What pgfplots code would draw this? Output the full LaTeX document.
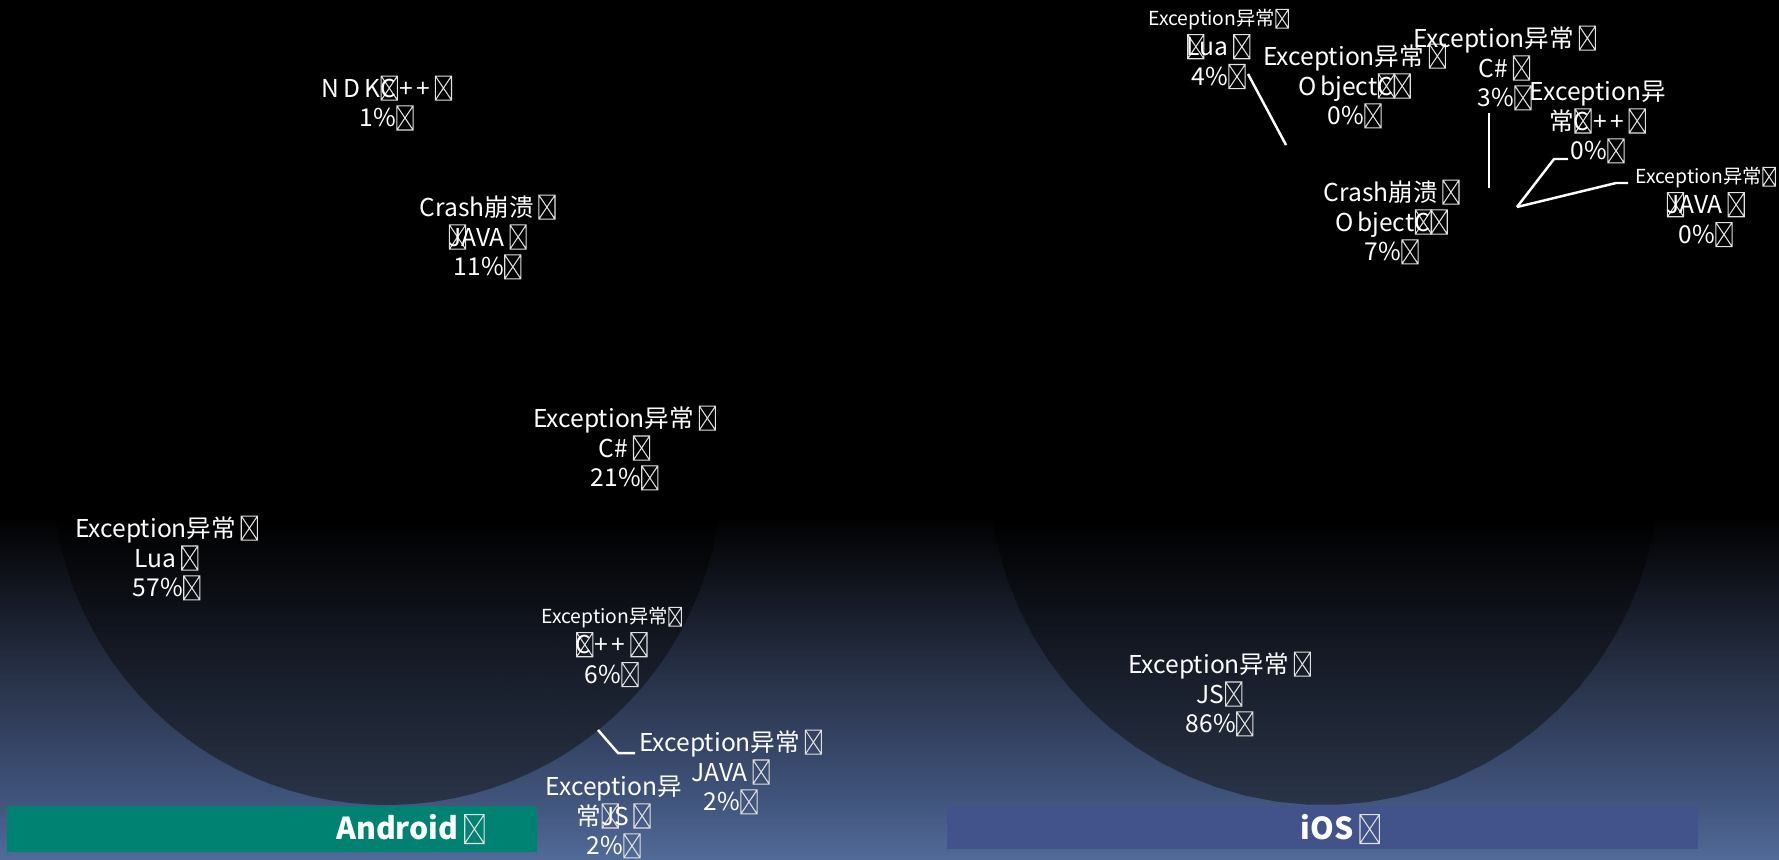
\documentclass[border=0pt]{standalone}
\usepackage{pgfplots}
\pgfplotsset{compat=1.18}
\usepackage{fontspec}
\setmainfont{Noto Sans CJK SC}

\definecolor{bgB}{RGB}{82,106,152}
\definecolor{bgC}{RGB}{64,84,124}
\definecolor{bgD}{RGB}{44,55,80}
\definecolor{pieB}{RGB}{42,52,72}
\definecolor{pieC}{RGB}{20,25,36}
\definecolor{droid}{RGB}{0,130,114}
\definecolor{ios}{RGB}{66,83,140}
\definecolor{tofu}{RGB}{225,225,225}

\pgfdeclareverticalshading{bgshade}{100bp}{color(0bp)=(bgB); color(25bp)=(bgB);
  color(28.5bp)=(bgC); color(34.5bp)=(bgD); color(45bp)=(black); color(100bp)=(black)}
\pgfdeclareverticalshading{pieshade}{100bp}{color(0bp)=(pieB); color(25bp)=(pieB);
  color(36.6bp)=(pieC); color(46.3bp)=(black); color(100bp)=(black)}

% missing glyph box as in the original rendering
\newcommand\tofu[1]{\tikz[baseline=0pt, x=#1pt, y=#1pt]{%
  \draw[line width=0.3pt, tofu] (0.3,-0.85) rectangle (4.9,6)
    (0.3,-0.85) -- (4.9,6) (0.3,6) -- (4.9,-0.85);
  \path (0,0) (5.3,0);}}
\newcommand\bx{\tofu{1}}
\newcommand\bxs{\tofu{0.78}}
\newcommand\sm{\fontsize{5.5}{7}\selectfont}

\tikzset{lbl/.style={text=white, align=center, inner sep=0pt,
    font=\fontsize{7}{8.5}\selectfont}}

% one wedge: centre x, centre y, radius, start and end in cumulative percent;
% the two bare points give every wedge the whole pie as box, so the shading lines up
\newcommand\slice[5]{%
  \addplot[draw=none, shading=pieshade, samples=60, domain={3.6*#4}:{3.6*#5}]
    ({#1+#3*sin(x)},{#2-#3*cos(x)}) -- (axis cs:#1,#2) -- cycle
    (axis cs:#1-#3,#2-#3) (axis cs:#1+#3,#2+#3);}

\begin{document}
\begin{tikzpicture}
\useasboundingbox (0,0) rectangle (17.79cm,8.59cm);
\shade[shading=bgshade] (0,0) rectangle (17.79cm,8.59cm);
\begin{axis}[
    at={(0,0)}, anchor=south west,
    width=17.79cm, height=8.59cm, scale only axis,
    xmin=0, xmax=1779, ymin=0, ymax=859, y dir=reverse,
    hide axis, clip=false,
  ]
  % Android: Crash JAVA 11, C# 21, C++ 6, JAVA 2, JS 2, Lua 57, NDK 1
  \slice{387}{470}{335}{0}{11}
  \slice{387}{470}{335}{11}{32}
  \slice{387}{470}{335}{32}{38}
  \slice{387}{470}{335}{38}{40}
  \slice{387}{470}{335}{40}{42}
  \slice{387}{470}{335}{42}{99}
  \slice{387}{470}{335}{99}{100}
  % iOS: Crash Object C 7, C# 3, C++ 0, JAVA 0, JS 86, Lua 4, Object C 0
  \slice{1324}{470}{335}{0}{7}
  \slice{1324}{470}{335}{7}{10}
  \slice{1324}{470}{335}{10}{96}
  \slice{1324}{470}{335}{96}{100}

  % title bars
  \addplot[fill=droid, draw=none] coordinates {(7,806) (537,806) (537,852) (7,852)} -- cycle;
  \addplot[fill=ios, draw=none] coordinates {(947,806) (1698,806) (1698,849) (947,849)} -- cycle;
  \node[lbl, font=\fontsize{8.6}{10}\selectfont\bfseries] at (411,829) {Android\,\tofu{1.2}};
  \node[lbl, font=\fontsize{8.6}{10}\selectfont\bfseries] at (1341,829) {iOS\,\tofu{1.2}};

  % leader lines
  \addplot[white, line width=0.7pt] coordinates {(598,730) (618,753) (635,753)};
  \addplot[white, line width=0.7pt] coordinates {(1248,74) (1286,145)};
  \addplot[white, line width=0.7pt] coordinates {(1489,113) (1489,188)};
  \addplot[white, line width=0.7pt] coordinates {(1568,159) (1554,159) (1517,207)};
  \addplot[white, line width=0.7pt] coordinates {(1628,183) (1616,183) (1517,207)};

  % Android labels
  \node[lbl] at (387,103) {N\kern1.2pt D\kern1.2pt K\rlap{\bx}C\kern1pt+\kern1pt+\,\bx\\1\%\bx};
  \node[lbl] at (488,237) {Crash崩溃\,\bx\\\rlap{\bx}JAVA\,\bx\\11\%\bx};
  \node[lbl] at (625,448) {Exception异常\,\bx\\C\#\,\bx\\21\%\bx};
  \node[lbl] at (167,558) {Exception异常\,\bx\\Lua\,\bx\\57\%\bx};
  \node[lbl] at (612,647) {{\sm Exception异常\bxs}\\\rlap{\bx}C\kern1pt+\kern1pt+\,\bx\\6\%\bx};
  \node[lbl] at (731,772) {Exception异常\,\bx\\JAVA\,\bx\\2\%\bx};
  \node[lbl] at (614,817) {Exception异\\常\rlap{\bx}JS\,\bx\\2\%\bx};

  % iOS labels
  \node[lbl] at (1220,694) {Exception异常\,\bx\\JS\bx\\86\%\bx};
  \node[lbl] at (1392,222) {Crash崩溃\,\bx\\O\kern1pt bject\rlap{\bx}C\bx\\7\%\bx};
  \node[lbl] at (1219,49) {{\sm Exception异常\bxs}\\\rlap{\bx}Lua\,\bx\\4\%\bx};
  \node[lbl] at (1355,86) {Exception异常\,\bx\\O\kern1pt bject\rlap{\bx}C\bx\\0\%\bx};
  \node[lbl] at (1505,68) {Exception异常\,\bx\\C\#\,\bx\\3\%\bx};
  \node[lbl] at (1598,122) {Exception异\\常\rlap{\bx}C\kern1pt+\kern1pt+\,\bx\\0\%\bx};
  \node[lbl] at (1706,207) {{\sm Exception异常\bxs}\\\rlap{\bx}JAVA\,\bx\\0\%\bx};
\end{axis}
\end{tikzpicture}
\end{document}
